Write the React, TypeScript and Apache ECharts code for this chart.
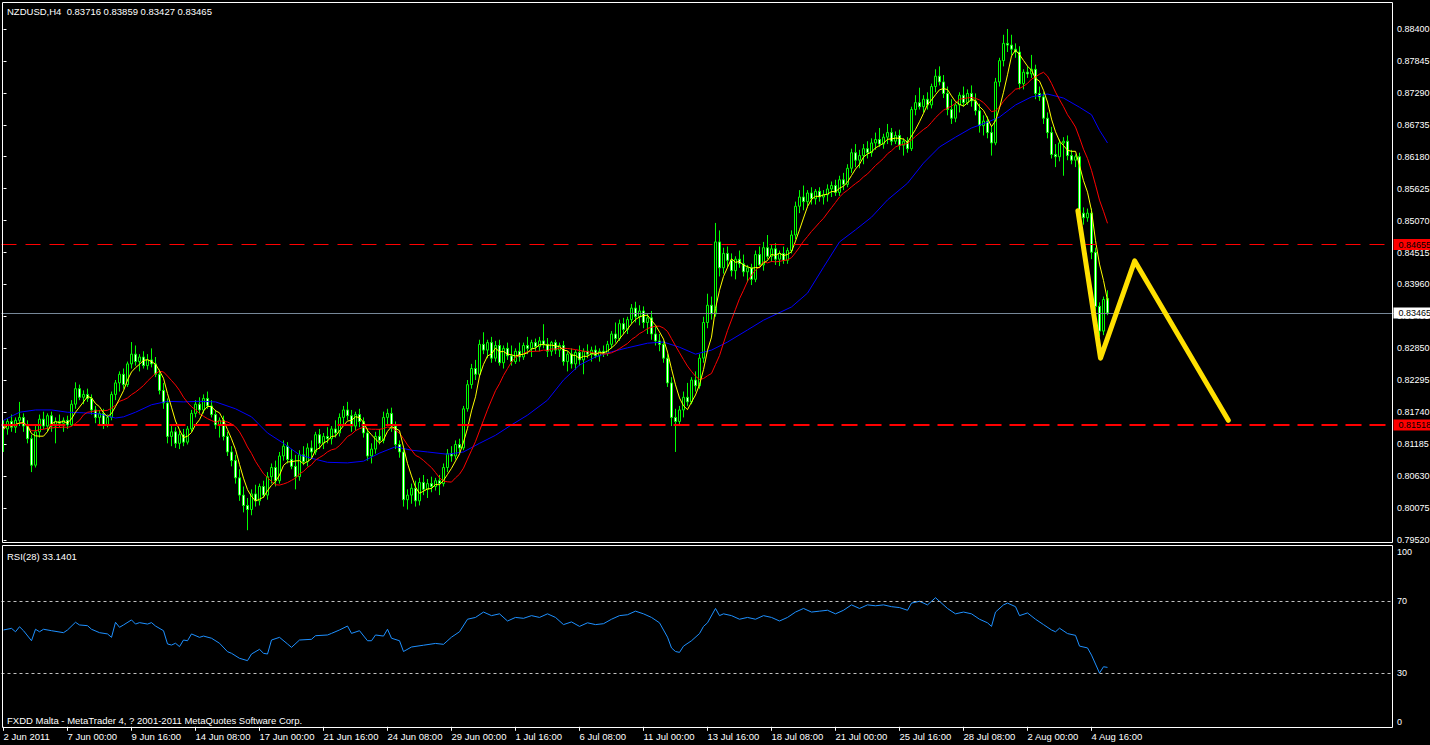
import React, { useEffect, useRef } from 'react';
import * as echarts from 'echarts';

// ---- price data (in pips, 0.0001) : H4 bars from 2 Jun 2011 08:00 ----
const OPEN = [
  8150,8145,8158,8148,8160,8165,8150,8128,8082,8140,
  8162,8150,8168,8150,8158,8155,8160,8152,8188,8215,
  8200,8205,8198,8178,8165,8172,8152,8165,8205,8225,
  8240,8222,8258,8275,8262,8270,8255,8265,8258,8240,
  8212,8190,8132,8140,8120,8135,8122,8145,8172,8188,
  8178,8198,8185,8170,8152,8160,8132,8105,8090,8060,
  8030,8012,8005,8032,8020,8045,8030,8062,8078,8055,
  8098,8115,8092,8080,8062,8100,8088,8112,8105,8135,
  8120,8132,8128,8145,8138,8165,8178,8168,8150,8170,
  8158,8138,8098,8110,8132,8125,8165,8172,8150,8118,
  8105,8022,8030,8042,8020,8052,8040,8050,8045,8055,
  8050,8078,8102,8098,8118,8112,8180,8222,8250,8240,
  8292,8282,8295,8268,8290,8260,8285,8272,8262,8280,
  8270,8290,8285,8295,8288,8298,8292,8280,8295,8282,
  8290,8262,8275,8258,8278,8265,8280,8275,8282,8272,
  8280,8276,8292,8310,8302,8328,8318,8335,8355,8340,
  8350,8330,8338,8310,8298,8292,8268,8225,8165,8158,
  8178,8200,8192,8230,8220,8268,8330,8360,8345,8470,
  8425,8450,8438,8420,8440,8432,8418,8425,8405,8448,
  8430,8460,8445,8458,8440,8450,8438,8455,8482,8532,
  8548,8540,8555,8545,8558,8548,8552,8562,8568,8556,
  8578,8570,8598,8625,8612,8620,8632,8625,8642,8648,
  8640,8652,8660,8645,8655,8638,8645,8632,8700,8712,
  8705,8718,8708,8740,8758,8748,8728,8700,8685,8708,
  8725,8712,8728,8715,8698,8672,8680,8660,8642,8748,
  8785,8815,8812,8805,8800,8745,8765,8762,8770,8728,
  8722,8685,8660,8622,8618,8642,8645,8620,8612,8618,
  8520,8512,8520,8452,8358,8315,8371.6
];
const HIGH = [
  8160,8163,8170,8165,8192,8172,8160,8135,8150,8170,
  8175,8172,8175,8165,8170,8165,8168,8195,8226,8222,
  8212,8215,8205,8185,8178,8180,8170,8210,8230,8245,
  8250,8262,8296,8290,8275,8280,8275,8285,8270,8248,
  8225,8198,8150,8148,8142,8145,8150,8178,8195,8200,
  8205,8210,8195,8178,8165,8168,8140,8115,8100,8075,
  8045,8025,8040,8048,8050,8055,8070,8085,8090,8105,
  8125,8122,8110,8100,8108,8115,8120,8125,8140,8145,
  8138,8148,8150,8160,8172,8185,8192,8178,8175,8180,
  8165,8145,8120,8140,8145,8175,8180,8182,8158,8125,
  8110,8040,8050,8055,8060,8065,8058,8062,8060,8065,
  8085,8110,8115,8125,8128,8185,8230,8258,8265,8300,
  8313,8300,8305,8298,8300,8290,8295,8290,8285,8295,
  8295,8305,8300,8302,8305,8327,8303,8298,8300,8295,
  8298,8280,8285,8282,8290,8285,8292,8288,8290,8285,
  8290,8298,8315,8330,8335,8338,8340,8362,8366,8360,
  8358,8345,8350,8322,8310,8298,8275,8235,8180,8185,
  8210,8225,8235,8245,8275,8340,8380,8375,8503,8490,
  8460,8462,8450,8445,8455,8448,8430,8432,8455,8462,
  8470,8482,8465,8468,8455,8462,8460,8490,8540,8560,
  8568,8560,8565,8562,8565,8560,8570,8575,8578,8585,
  8590,8605,8632,8640,8630,8640,8645,8650,8660,8668,
  8658,8675,8668,8662,8665,8650,8652,8705,8725,8738,
  8725,8730,8745,8770,8775,8760,8740,8718,8712,8730,
  8740,8735,8742,8728,8710,8690,8688,8672,8755,8790,
  8830,8840,8830,8815,8810,8770,8775,8795,8778,8740,
  8730,8695,8670,8640,8648,8652,8655,8630,8622,8625,
  8530,8528,8528,8460,8365,8375,8385.9
];
const LOW = [
  8105,8135,8140,8138,8150,8140,8120,8070,8078,8130,
  8145,8140,8140,8120,8148,8140,8145,8150,8180,8195,
  8188,8192,8170,8155,8150,8145,8148,8160,8195,8210,
  8215,8218,8250,8255,8245,8250,8248,8252,8235,8205,
  8180,8120,8115,8112,8110,8115,8118,8140,8165,8170,
  8172,8180,8165,8145,8130,8125,8098,8080,8050,8020,
  8000,7969,7995,8010,8012,8025,8022,8050,8045,8050,
  8090,8085,8075,8040,8055,8082,8080,8095,8100,8110,
  8110,8120,8118,8130,8132,8150,8160,8140,8142,8148,
  8130,8090,8085,8102,8118,8120,8150,8140,8110,8095,
  8010,8005,8015,8010,8012,8030,8025,8035,8038,8030,
  8045,8070,8088,8092,8105,8108,8175,8215,8230,8235,
  8275,8268,8260,8262,8255,8250,8265,8255,8258,8262,
  8265,8275,8270,8280,8280,8285,8270,8272,8275,8270,
  8255,8245,8250,8248,8255,8240,8268,8262,8268,8262,
  8270,8272,8285,8295,8298,8310,8310,8328,8330,8325,
  8320,8310,8300,8290,8280,8260,8218,8150,8105,8150,
  8165,8185,8188,8210,8215,8260,8320,8335,8340,8410,
  8415,8425,8410,8405,8425,8410,8400,8395,8400,8425,
  8420,8440,8435,8430,8428,8432,8432,8450,8475,8520,
  8525,8530,8535,8535,8540,8535,8540,8548,8550,8550,
  8560,8565,8590,8600,8598,8605,8615,8618,8630,8635,
  8632,8640,8638,8640,8630,8620,8625,8628,8690,8700,
  8695,8700,8702,8730,8742,8720,8690,8675,8678,8695,
  8705,8708,8705,8690,8660,8655,8650,8620,8638,8740,
  8775,8800,8795,8790,8735,8735,8755,8755,8718,8715,
  8675,8650,8615,8600,8610,8585,8612,8605,8600,8510,
  8500,8505,8440,8350,8305,8308,8342.7
];
const CLOSE = [
  8145,8158,8148,8160,8165,8150,8128,8082,8140,8162,
  8150,8168,8150,8158,8155,8160,8152,8188,8215,8200,
  8205,8198,8178,8165,8172,8152,8165,8205,8225,8240,
  8222,8258,8275,8262,8270,8255,8265,8258,8240,8212,
  8190,8132,8140,8120,8135,8122,8145,8172,8188,8178,
  8198,8185,8170,8152,8160,8132,8105,8090,8060,8030,
  8012,8005,8032,8020,8045,8030,8062,8078,8055,8098,
  8115,8092,8080,8062,8100,8088,8112,8105,8135,8120,
  8132,8128,8145,8138,8165,8178,8168,8150,8170,8158,
  8138,8098,8110,8132,8125,8165,8172,8150,8118,8105,
  8022,8030,8042,8020,8052,8040,8050,8045,8055,8050,
  8078,8102,8098,8118,8112,8180,8222,8250,8240,8292,
  8282,8295,8268,8290,8260,8285,8272,8262,8280,8270,
  8290,8285,8295,8288,8298,8292,8280,8295,8282,8290,
  8262,8275,8258,8278,8265,8280,8275,8282,8272,8280,
  8276,8292,8310,8302,8328,8318,8335,8355,8340,8350,
  8330,8338,8310,8298,8292,8268,8225,8165,8158,8178,
  8200,8192,8230,8220,8268,8330,8360,8345,8470,8425,
  8450,8438,8420,8440,8432,8418,8425,8405,8448,8430,
  8460,8445,8458,8440,8450,8438,8455,8482,8532,8548,
  8540,8555,8545,8558,8548,8552,8562,8568,8556,8578,
  8570,8598,8625,8612,8620,8632,8625,8642,8648,8640,
  8652,8660,8645,8655,8638,8645,8632,8700,8712,8705,
  8718,8708,8740,8758,8748,8728,8700,8685,8708,8725,
  8712,8728,8715,8698,8672,8680,8660,8642,8748,8785,
  8815,8812,8805,8800,8745,8765,8762,8770,8728,8722,
  8685,8660,8622,8618,8642,8645,8620,8612,8618,8520,
  8512,8520,8452,8358,8315,8370,8346.5
];

// slow MA (blue): [bar index, pips]
const BLUE_MA = [
  [0,8160],[4,8174],[8,8178],[12,8178],[16,8174],[20,8173],[24,8171],[28,8164],[30,8166],[33,8174],
  [37,8187],[41,8193],[45,8192],[49,8193],[53,8192],[58,8180],[62,8166],[66,8138],[70,8120],[74,8100],
  [77,8094],[81,8087],[86,8086],[90,8089],[94,8103],[98,8114],[102,8108],[106,8105],[111,8101],[115,8105],
  [119,8120],[123,8134],[127,8152],[131,8169],[136,8195],[140,8230],[144,8256],[148,8270],[152,8279],[156,8286],
  [161,8294],[165,8296],[169,8287],[173,8275],[177,8282],[181,8296],[186,8317],[190,8334],[197,8357],[201,8381],
  [205,8426],[209,8470],[213,8491],[217,8513],[221,8543],[226,8572],[230,8607],[234,8635],[238,8652],[242,8668],
  [246,8678],[249,8687],[253,8708],[257,8722],[261,8727],[265,8720],[269,8704],[272,8691],[274,8664],[276,8642]
];

// RSI(28): [bar index, value]
const RSI = [
  [0,54.0],[2,54.9],[3,53.0],[4,55.8],[5,53.6],[7,48.0],[8,54.4],[9,53.0],[10,54.4],[12,53.6],
  [15,52.5],[16,54.0],[18,58.3],[19,56.8],[21,56.4],[22,54.4],[24,52.5],[26,51.8],[27,49.9],[28,58.3],
  [29,55.5],[30,56.8],[32,59.6],[33,57.3],[34,58.1],[36,57.3],[37,58.1],[38,56.2],[40,53.6],[41,46.2],
  [42,45.6],[43,46.6],[44,44.7],[45,48.4],[46,48.0],[47,51.8],[49,49.9],[50,50.6],[52,49.4],[54,46.6],
  [56,41.9],[57,41.0],[59,38.2],[61,36.9],[62,40.6],[64,43.2],[65,41.0],[66,40.6],[67,48.4],[69,49.9],
  [71,46.2],[72,44.3],[74,48.4],[77,48.8],[78,50.8],[81,51.2],[82,52.1],[84,54.0],[86,56.2],[87,52.1],
  [89,53.6],[91,48.0],[92,48.0],[93,51.2],[95,50.6],[96,54.4],[97,49.4],[99,48.0],[100,42],[102,44.5],
  [105,45.5],[108,46.5],[110,46],[112,50],[114,53],[116,60],[118,61],[120,64],[122,62],[124,63],
  [126,59],[128,61],[130,60.5],[132,62],[134,61],[136,63],[138,61],[140,57],[142,58.5],[144,56],
  [146,58],[148,57],[150,57.5],[152,60],[154,62],[156,62.5],[158,64.5],[160,63],[162,61],[164,58],
  [166,50],[167,44],[168,42],[169,41.5],[170,45],[172,48],[174,52],[175,56],[176,58],[178,66],
  [179,62],[180,63],[182,62],[184,60],[186,61],[188,60],[190,62],[192,61],[194,59],[196,61],
  [198,64],[200,66],[202,64],[204,64.5],[206,65],[208,63],[210,65],[212,68],[214,66],[216,68],
  [218,67.5],[220,68],[222,67],[224,66.5],[226,65],[227,69],[229,70],[231,68],[233,72],[234,70],
  [236,66],[238,63],[240,64],[242,63],[244,60],[246,58],[247,56],[248,64],[250,68],[251,69],
  [253,67],[254,62],[256,63.5],[258,60],[260,57],[262,54],[263,53],[264,55],[266,52],[268,51],
  [269,45],[271,44],[272,40],[273,35],[274,30],[275,33.5],[276,33.14]
];

// drawn pattern (thick yellow trend lines): [bar index, price]
const PATTERN = [[268.6, 0.8524], [274.25, 0.8268], [282.8, 0.8437], [306.2, 0.8160]];

const LEVEL_UPPER = 0.84655;
const LEVEL_BID = 0.83465;
const LEVEL_LOWER = 0.81518;

const PRICE_TICKS = [0.884, 0.87845, 0.8729, 0.86735, 0.8618, 0.85625, 0.8507, 0.84515, 0.8396,
  0.83405, 0.8285, 0.82295, 0.8174, 0.81185, 0.8063, 0.80075, 0.7952];
const TIME_LABELS = ['2 Jun 2011', '7 Jun 00:00', '9 Jun 16:00', '14 Jun 08:00', '17 Jun 00:00',
  '21 Jun 16:00', '24 Jun 08:00', '29 Jun 00:00', '1 Jul 16:00', '6 Jul 08:00', '11 Jul 00:00',
  '13 Jul 16:00', '18 Jul 08:00', '21 Jul 00:00', '25 Jul 16:00', '28 Jul 08:00', '2 Aug 00:00', '4 Aug 16:00'];
const LABEL_STEP = 16;
const N_SLOTS = 348;
const Y_MIN = 0.794852;
const Y_MAX = 0.888518;

const TITLE = 'NZDUSD,H4  0.83716 0.83859 0.83427 0.83465';
const RSI_TITLE = 'RSI(28) 33.1401';
const FOOTER = 'FXDD Malta - MetaTrader 4, ? 2001-2011 MetaQuotes Software Corp.';

const FONT = "'Liberation Sans', Arial, sans-serif";
const FS = 9.5;
const AXIS_FS = 9;

const p = (v: number) => v / 10000;

function sma(values: number[], period: number): number[] {
  return values.map((_, i) => {
    const s = Math.max(0, i - period + 1);
    let sum = 0;
    for (let k = s; k <= i; k++) sum += values[k];
    return sum / (i - s + 1);
  });
}

export default function App() {
  const ref = useRef<HTMLDivElement>(null);
  useEffect(() => {
    if (!ref.current) return;
    const chart = echarts.init(ref.current, undefined, { renderer: 'svg' });
    const cats = Array.from({ length: N_SLOTS }, (_, i) => String(i));
    const candles = OPEN.map((o, i) => [p(o), p(CLOSE[i]), p(LOW[i]), p(HIGH[i])]);
    const fast = sma(CLOSE, 5).map((v, i) => [i, p(v)]);
    const mid = sma(CLOSE, 13).map((v, i) => [i, p(v)]);
    const slow = BLUE_MA.map(([i, v]) => [i, p(v)]);
    const showLabel = (i: number) => i % LABEL_STEP === 0 && i / LABEL_STEP < TIME_LABELS.length;
    const boxLabel = (bg: string, fg: string, txt: string) => ({
      show: true, position: 'end', distance: 0, formatter: txt,
      backgroundColor: bg, color: fg, fontSize: AXIS_FS, fontFamily: FONT,
      padding: [1, 12, 0, 5], lineHeight: 10,
    });
    const option: any = {
      animation: false,
      backgroundColor: '#000000',
      grid: [
        { left: 1.5, top: 3, width: N_SLOTS * 4, height: 539, outerBoundsMode: 'none', containLabel: false },
        { left: 1.5, top: 547.5, width: N_SLOTS * 4, height: 179.3, outerBoundsMode: 'none', containLabel: false },
      ],
      xAxis: [
        { type: 'category', gridIndex: 0, data: cats, boundaryGap: true, show: false },
        { type: 'value', gridIndex: 0, min: -0.5, max: N_SLOTS - 0.5, show: false, position: 'top' },
        {
          type: 'category', gridIndex: 1, data: cats, boundaryGap: true, position: 'bottom',
          axisLine: { show: false },
          axisTick: { show: true, alignWithLabel: true, interval: (i: number) => showLabel(i), length: 4, lineStyle: { color: '#ffffff' } },
          axisLabel: {
            interval: (i: number) => showLabel(i),
            formatter: (_v: string, i: number) => TIME_LABELS[i / LABEL_STEP] ?? '',
            color: '#ffffff', fontSize: FS, fontFamily: FONT, align: 'left', margin: 5,
          },
          splitLine: { show: false },
        },
        { type: 'value', gridIndex: 1, min: -0.5, max: N_SLOTS - 0.5, show: false, position: 'top' },
      ],
      yAxis: [
        {
          type: 'value', gridIndex: 0, min: Y_MIN, max: Y_MAX, position: 'right',
          axisLine: { show: false }, splitLine: { show: false },
          axisTick: { show: true, length: 3, customValues: PRICE_TICKS, lineStyle: { color: '#ffffff' } },
          axisLabel: { customValues: PRICE_TICKS, formatter: (v: number) => v.toFixed(5), color: '#ffffff', fontSize: AXIS_FS, fontFamily: FONT, margin: 3.5 },
        },
        {
          type: 'value', gridIndex: 1, min: 0, max: 100, position: 'right',
          axisLine: { show: false }, splitLine: { show: false }, axisTick: { show: false },
          axisLabel: { customValues: [30, 70], color: '#ffffff', fontSize: AXIS_FS, fontFamily: FONT, margin: 3.5 },
        },
      ],
      series: [
        {
          type: 'candlestick', xAxisIndex: 0, yAxisIndex: 0, data: candles, barWidth: 2, z: 3,
          itemStyle: { color: '#000000', color0: '#ffffff', borderColor: '#00ff00', borderColor0: '#00ff00', borderWidth: 1 },
          markLine: {
            silent: true, symbol: ['none', 'none'], animation: false, precision: 5,
            data: [
              { yAxis: LEVEL_UPPER, lineStyle: { color: '#ff0000', width: 1, type: [15, 9] }, label: boxLabel('#ff0000', '#000000', LEVEL_UPPER.toFixed(5)) },
              { yAxis: LEVEL_BID, lineStyle: { color: '#778899', width: 1, type: 'solid' }, label: boxLabel('#ffffff', '#000000', LEVEL_BID.toFixed(5)) },
              { yAxis: LEVEL_LOWER, lineStyle: { color: '#ff0000', width: 2, type: [16, 8] }, label: boxLabel('#ff0000', '#000000', LEVEL_LOWER.toFixed(5)) },
            ],
          },
        },
        { type: 'line', xAxisIndex: 1, yAxisIndex: 0, data: slow, symbol: 'none', z: 4, lineStyle: { color: '#0000ff', width: 1 } },
        { type: 'line', xAxisIndex: 1, yAxisIndex: 0, data: mid, symbol: 'none', z: 4, lineStyle: { color: '#ff0000', width: 1 } },
        { type: 'line', xAxisIndex: 1, yAxisIndex: 0, data: fast, symbol: 'none', z: 4, lineStyle: { color: '#ffff00', width: 1 } },
        {
          type: 'line', xAxisIndex: 1, yAxisIndex: 0, data: PATTERN, symbol: 'none', z: 6,
          lineStyle: { color: '#ffe000', width: 5, cap: 'round', join: 'round' },
        },
        {
          type: 'line', xAxisIndex: 3, yAxisIndex: 1, data: RSI, symbol: 'none', z: 4,
          lineStyle: { color: '#1e90ff', width: 1 },
          markLine: {
            silent: true, symbol: ['none', 'none'], animation: false, label: { show: false }, precision: 2,
            lineStyle: { color: '#c0c0c0', width: 1, type: [3, 3] },
            data: [{ yAxis: 70 }, { yAxis: 30 }],
          },
        },
      ],
      graphic: [
        { type: 'rect', silent: true, z: 10, shape: { x: 2.5, y: 2.5, width: 1390, height: 540 }, style: { fill: 'none', stroke: '#ffffff', lineWidth: 1 } },
        { type: 'rect', silent: true, z: 10, shape: { x: 2.5, y: 545.5, width: 1390, height: 182 }, style: { fill: 'none', stroke: '#ffffff', lineWidth: 1 } },
        { type: 'text', silent: true, z: 11, x: 7, y: 11, style: { text: TITLE, fill: '#ffffff', font: `${FS}px ${FONT}`, verticalAlign: 'middle' } },
        { type: 'text', silent: true, z: 11, x: 7, y: 556, style: { text: RSI_TITLE, fill: '#ffffff', font: `${FS}px ${FONT}`, verticalAlign: 'middle' } },
        { type: 'text', silent: true, z: 11, x: 7, y: 720, style: { text: FOOTER, fill: '#ffffff', font: `${FS}px ${FONT}`, verticalAlign: 'middle' } },
        { type: 'text', silent: true, z: 11, x: 1397, y: 552, style: { text: '100', fill: '#ffffff', font: `${AXIS_FS}px ${FONT}`, verticalAlign: 'middle' } },
        { type: 'text', silent: true, z: 11, x: 1397, y: 722, style: { text: '0', fill: '#ffffff', font: `${AXIS_FS}px ${FONT}`, verticalAlign: 'middle' } },
      ],
    };
    chart.setOption(option);
    return () => chart.dispose();
  }, []);
  return <div ref={ref} style={{ position: 'fixed', left: 0, top: 0, width: 1430, height: 745, background: '#000' }} />;
}
